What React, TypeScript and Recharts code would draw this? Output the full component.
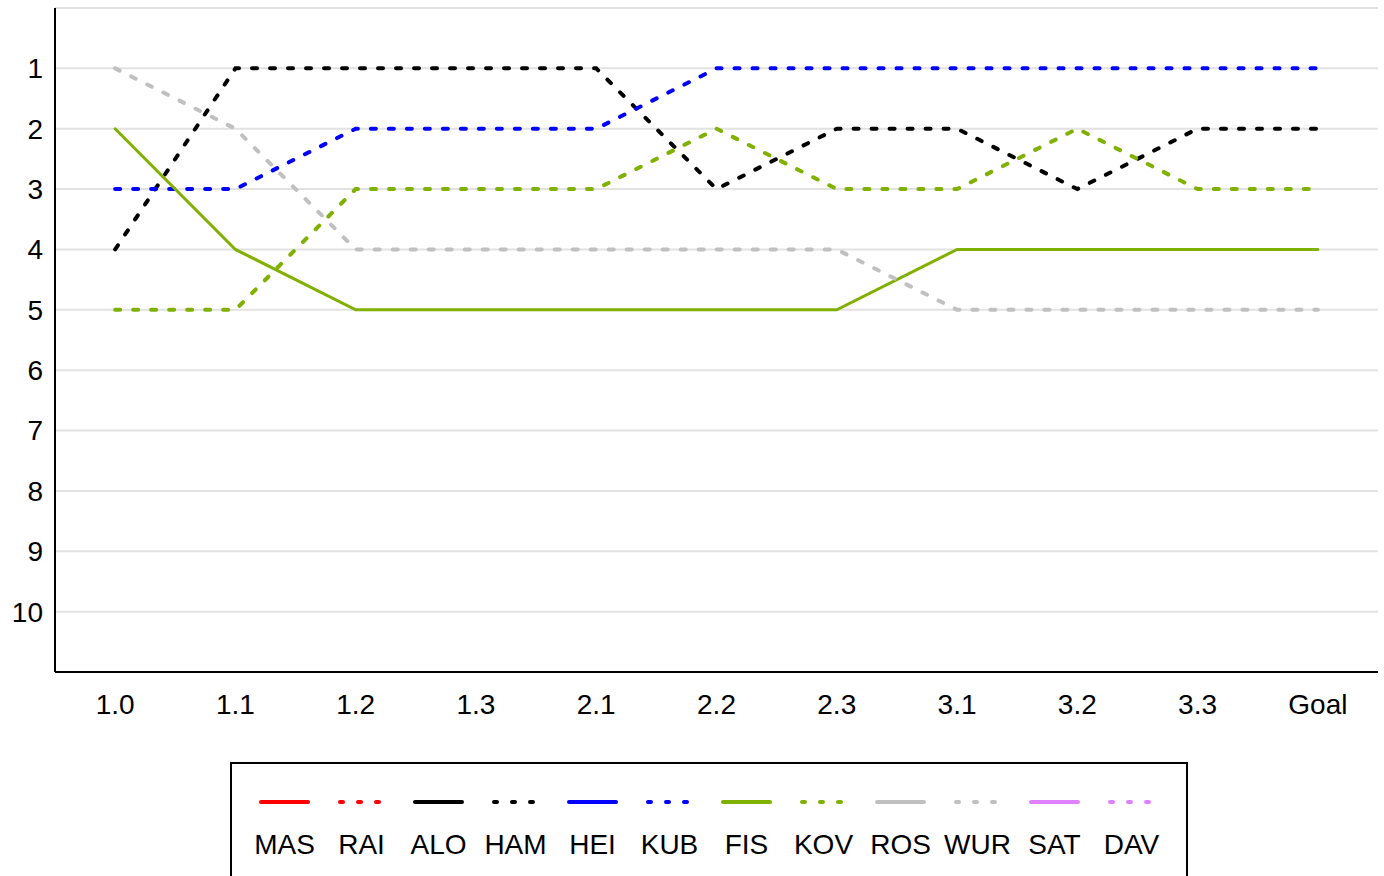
import React from 'react';
import { LineChart, Line, XAxis, YAxis, CartesianGrid, Legend } from 'recharts';

const categories = ['1.0', '1.1', '1.2', '1.3', '2.1', '2.2', '2.3', '3.1', '3.2', '3.3', 'Goal'];
const positionTicks = [1, 2, 3, 4, 5, 6, 7, 8, 9, 10];

const MAS: number[] = [];
const RAI: number[] = [];
const ALO: number[] = [];
const HAM = [4, 1, 1, 1, 1, 3, 2, 2, 3, 2, 2];
const HEI: number[] = [];
const KUB = [3, 3, 2, 2, 2, 1, 1, 1, 1, 1, 1];
const FIS = [2, 4, 5, 5, 5, 5, 5, 4, 4, 4, 4];
const KOV = [5, 5, 3, 3, 3, 2, 3, 3, 2, 3, 3];
const ROS: number[] = [];
const WUR = [1, 2, 4, 4, 4, 4, 4, 5, 5, 5, 5];
const SAT: number[] = [];
const DAV: number[] = [];

const drivers = [
  { key: 'MAS', values: MAS, color: '#ff0000', dotted: false },
  { key: 'RAI', values: RAI, color: '#ff0000', dotted: true },
  { key: 'ALO', values: ALO, color: '#000000', dotted: false },
  { key: 'HAM', values: HAM, color: '#000000', dotted: true },
  { key: 'HEI', values: HEI, color: '#0000ff', dotted: false },
  { key: 'KUB', values: KUB, color: '#0000ff', dotted: true },
  { key: 'FIS', values: FIS, color: '#80b000', dotted: false },
  { key: 'KOV', values: KOV, color: '#80b000', dotted: true },
  { key: 'ROS', values: ROS, color: '#c0c0c0', dotted: false },
  { key: 'WUR', values: WUR, color: '#c0c0c0', dotted: true },
  { key: 'SAT', values: SAT, color: '#e080ff', dotted: false },
  { key: 'DAV', values: DAV, color: '#e080ff', dotted: true },
];

const data = categories.map((c, i) => {
  const row: Record<string, string | number | null> = { name: c };
  drivers.forEach((d) => {
    row[d.key] = d.values[i] !== undefined ? d.values[i] : null;
  });
  return row;
});

const FONT = '"Liberation Sans", Arial, sans-serif';
const tickStyle = { fill: '#000', fontSize: 28, fontFamily: FONT };

const LegendBox = () => (
  <div
    style={{
      boxSizing: 'border-box',
      width: 958,
      height: 120,
      borderTop: '2px solid #000',
      borderLeft: '2px solid #000',
      borderRight: '2px solid #000',
      paddingLeft: 14,
      display: 'flex',
      flexDirection: 'row',
      fontFamily: FONT,
      background: '#fff',
    }}
  >
    {drivers.map((d) => (
      <div key={d.key} style={{ width: 77, display: 'flex', flexDirection: 'column', alignItems: 'center' }}>
        <svg width={77} height={20} style={{ marginTop: 28, display: 'block' }}>
          {d.dotted ? (
            <line x1={17} x2={61} y1={10} y2={10} stroke={d.color} strokeWidth={4} strokeDasharray="3 15" strokeLinecap="round" />
          ) : (
            <line x1={15} x2={62} y1={10} y2={10} stroke={d.color} strokeWidth={4} strokeLinecap="round" />
          )}
        </svg>
        <div style={{ marginTop: 18, fontSize: 28, lineHeight: '30px', color: '#000', whiteSpace: 'nowrap' }}>{d.key}</div>
      </div>
    ))}
  </div>
);

export default function App() {
  return (
    <div style={{ position: 'absolute', left: 0, top: 0, width: 1384, height: 876, overflow: 'hidden', background: '#fff' }}>
      <LineChart width={1384} height={876} data={data} margin={{ top: 8, right: 6, left: 0, bottom: 0 }}>
        <CartesianGrid horizontal={true} vertical={false} stroke="#e2e2e2" strokeWidth={2} />
        <XAxis
          dataKey="name"
          scale="band"
          height={90}
          tickLine={false}
          tickSize={0}
          tickMargin={22}
          axisLine={{ stroke: '#000', strokeWidth: 2 }}
          tick={tickStyle}
          interval={0}
        />
        <XAxis
          xAxisId="top"
          dataKey="name"
          scale="band"
          orientation="top"
          height={0}
          tick={false}
          tickLine={false}
          axisLine={{ stroke: '#000', strokeWidth: 2 }}
        />
        <YAxis
          type="number"
          domain={[0, 11]}
          reversed
          ticks={positionTicks}
          interval={0}
          width={55}
          tickLine={false}
          tickSize={0}
          tickMargin={12}
          axisLine={{ stroke: '#000', strokeWidth: 2 }}
          tick={tickStyle}
        />
        <YAxis
          yAxisId="right"
          orientation="right"
          type="number"
          domain={[0, 11]}
          reversed
          width={0}
          tick={false}
          tickLine={false}
          axisLine={{ stroke: '#000', strokeWidth: 2 }}
        />
        {drivers.map((d) => (
          <Line
            key={d.key}
            type="linear"
            dataKey={d.key}
            stroke={d.color}
            strokeWidth={d.dotted ? 4 : 3}
            strokeDasharray={d.dotted ? '5 13' : undefined}
            strokeLinecap="round"
            dot={false}
            activeDot={false}
            connectNulls={false}
            isAnimationActive={false}
          />
        ))}
        <Legend
          verticalAlign="bottom"
          content={() => <LegendBox />}
          wrapperStyle={{ left: 230, top: 762, bottom: 'auto', width: 958, height: 114 }}
        />
      </LineChart>
    </div>
  );
}
